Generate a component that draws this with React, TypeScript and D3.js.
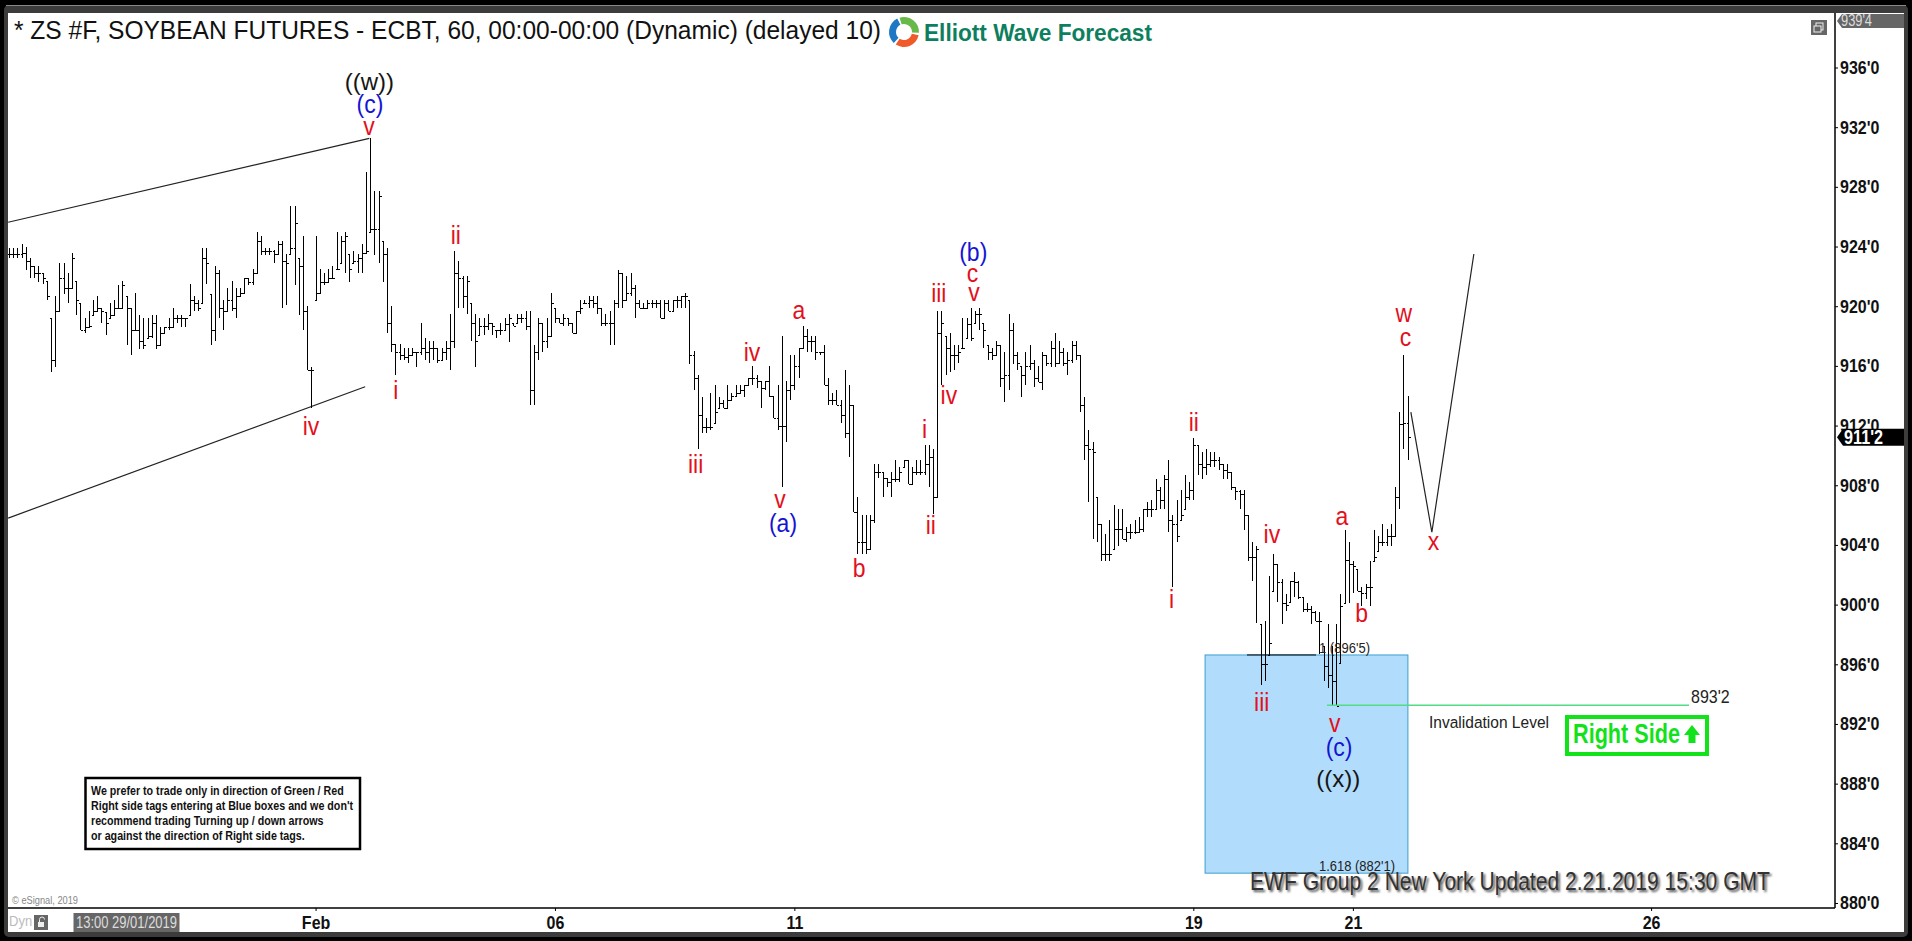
import * as d3 from "d3";
import { useEffect, useRef } from "react";

const highs = [
  923.9,923.9,923.9,924.2,924.0,923.2,922.7,922.7,922.2,921.7,
  919.2,920.7,922.9,922.9,922.2,923.6,921.7,920.2,919.2,919.7,
  920.4,920.7,919.9,919.6,920.2,920.4,921.4,921.7,920.7,919.9,
  920.9,919.4,919.2,919.2,919.4,919.4,918.6,918.6,919.2,919.9,
  919.4,919.4,919.2,921.5,920.7,920.4,923.9,923.9,920.8,922.7,
  922.4,920.4,921.2,921.7,921.2,921.2,
  921.9,921.9,922.5,925.0,924.7,923.9,923.9,923.8,924.4,924.4,
  923.5,926.7,926.7,923.2,924.7,920.0,915.9,924.7,922.5,922.2,
  922.5,922.7,925.0,924.7,925.0,923.5,923.7,923.5,924.2,929.0,
  931.25,927.7,927.7,924.4,923.9,920.0,917.5,917.5,917.2,917.2,
  917.2,916.9,918.9,917.9,917.7,917.7,917.2,917.2,917.7,919.5,
  923.7,923.0,922.0,922.0,920.2,919.5,
  919.2,919.2,919.5,918.9,918.4,918.9,919.2,919.5,918.9,919.5,
  919.5,919.7,919.7,917.4,919.2,918.9,919.2,920.9,919.9,919.2,
  919.5,919.2,918.9,919.7,920.4,920.4,920.7,920.7,920.7,919.9,
  919.5,919.7,920.4,922.4,922.2,922.0,922.2,921.4,920.4,920.2,
  920.4,920.4,920.4,920.4,920.4,920.4,920.4,920.7,920.7,920.9,
  920.4,917.0,915.4,913.9,
  912.5,914.2,914.7,913.9,913.7,914.7,914.2,914.7,914.7,914.7,
  915.2,916.0,915.4,915.0,915.0,916.0,914.0,914.7,918.0,915.0,
  916.7,916.7,917.2,918.7,918.5,918.0,918.0,916.9,917.4,915.2,
  914.2,914.4,913.7,915.7,914.7,913.4,907.2,906.0,906.0,906.0,
  909.4,909.4,908.9,908.5,908.9,909.7,909.2,909.7,909.7,909.2,
  909.7,909.7,910.7,910.7,910.4,919.7,
  919.7,918.0,918.2,917.4,917.4,919.2,919.2,919.9,919.7,919.9,
  918.9,917.4,917.2,917.7,917.4,916.9,919.5,918.9,916.9,916.0,
  916.9,917.4,916.4,916.0,916.9,916.7,917.7,918.2,917.7,917.2,
  916.9,917.7,917.7,916.7,913.9,911.7,910.9,907.2,905.4,904.7,
  905.7,906.7,906.4,906.4,905.2,905.4,905.7,905.9,906.4,906.9,
  907.0,908.4,907.9,908.7,909.7,906.0,
  907.0,907.7,908.7,908.2,911.2,910.7,910.2,910.4,910.2,910.2,
  909.9,909.4,909.4,908.9,907.9,907.7,907.7,906.0,904.2,903.9,
  898.7,898.9,901.9,903.4,902.7,901.7,900.7,901.6,902.2,901.6,
  900.5,900.1,899.9,899.6,899.5,897.2,898.7,897.2,898.7,900.7,
  905.0,904.2,902.9,902.4,901.2,901.4,902.9,905.0,904.6,905.4,
  905.1,905.4,907.9,912.9,916.7,914.0,
];

const lows = [
  923.2,923.2,923.2,923.2,922.4,921.9,921.9,921.6,921.5,920.4,
  915.6,915.9,919.7,920.8,920.2,921.2,919.4,918.4,918.2,918.6,
  919.4,919.7,918.9,918.1,919.2,919.4,919.9,919.9,917.4,916.7,
  918.4,917.1,917.1,917.9,917.9,917.1,917.4,918.2,918.4,918.6,
  918.9,918.6,918.6,919.4,919.7,919.7,920.2,921.5,917.4,917.7,
  919.2,918.4,919.7,919.7,919.2,920.7,
  920.9,921.4,921.4,922.2,923.4,923.4,923.4,922.9,923.4,919.9,
  920.1,923.5,921.4,919.4,918.4,915.7,913.2,920.4,920.9,921.4,
  921.6,921.9,922.5,922.9,922.2,921.6,922.9,922.2,922.2,923.5,
  925.0,923.4,922.9,921.6,918.2,916.9,915.4,916.4,916.4,916.2,
  916.7,915.9,916.7,916.4,916.2,916.4,916.2,916.4,916.4,915.7,
  917.2,919.9,919.9,919.5,917.7,915.9,
  918.1,918.1,918.4,918.1,917.9,918.1,918.4,917.6,918.7,918.9,
  918.9,918.4,913.4,913.4,916.4,916.9,917.2,918.0,918.9,918.9,
  918.7,918.7,918.2,918.2,919.5,920.2,919.9,919.9,919.5,918.7,
  918.7,917.4,917.4,919.9,919.9,920.4,920.7,919.2,919.9,919.9,
  919.9,919.9,919.9,919.2,919.2,919.7,919.7,919.9,919.9,919.9,
  916.1,914.4,910.4,911.5,
  911.5,911.7,912.2,913.2,913.2,913.2,913.7,913.9,914.2,913.9,
  914.7,914.7,914.5,913.2,914.4,913.9,912.5,911.7,907.9,910.9,
  913.7,914.4,915.2,917.2,916.9,916.9,916.4,916.7,914.7,913.4,
  913.4,913.4,912.2,911.2,909.9,906.2,903.4,903.4,903.4,903.7,
  905.5,908.5,907.2,907.9,907.2,908.2,908.2,909.2,908.1,908.1,
  908.7,908.7,908.7,907.9,906.1,907.2,
  914.7,915.4,915.6,915.7,916.2,917.2,917.9,917.7,918.9,918.4,
  917.2,916.4,916.4,916.7,914.6,913.6,914.4,916.1,915.7,913.9,
  914.7,915.7,914.6,914.9,914.4,916.0,915.9,915.9,916.2,916.0,
  915.4,916.2,916.4,912.9,909.7,906.9,904.4,904.2,902.9,902.9,
  902.9,903.7,903.9,904.4,904.2,904.4,904.7,904.9,904.9,905.9,
  905.9,906.4,906.4,906.4,904.9,901.2,
  904.2,905.7,906.4,907.0,907.0,908.7,908.4,908.7,909.2,909.2,
  909.0,908.4,908.4,907.7,907.0,906.4,905.0,902.9,901.6,898.8,
  894.6,894.9,896.6,900.9,900.2,898.7,899.6,900.2,900.5,900.4,
  899.5,899.5,898.7,898.9,896.7,894.9,894.4,893.2,893.2,896.1,
  900.1,900.1,900.8,900.9,899.9,900.4,899.9,902.9,903.6,903.9,
  903.9,903.9,904.6,906.4,910.4,909.7,
];

const closes = [
  923.5,923.5,923.5,923.6,923.0,922.7,922.2,922.2,921.9,920.7,
  916.4,919.7,921.9,921.2,921.2,923.2,920.4,918.4,918.6,918.7,
  919.7,919.9,919.7,918.9,919.4,919.9,919.9,921.4,919.9,918.4,
  918.4,917.7,917.4,918.0,918.9,917.4,918.2,918.6,918.6,919.2,
  919.2,919.2,919.2,920.4,920.2,919.9,923.2,922.9,918.4,922.2,
  919.9,919.7,920.4,919.9,920.7,920.9,
  921.9,921.6,922.2,924.4,923.7,923.7,923.7,923.5,924.2,923.0,
  922.9,923.9,925.6,922.7,919.7,915.7,915.7,920.9,921.6,921.6,
  921.9,921.9,922.5,924.4,924.7,922.5,923.0,923.2,923.6,923.7,
  925.2,925.2,927.4,923.5,918.9,917.5,916.9,916.7,916.6,916.7,
  916.9,916.9,917.2,916.9,917.2,917.2,916.4,916.9,917.2,917.7,
  922.2,921.9,920.7,921.7,918.9,917.7,
  918.7,918.7,918.9,918.7,918.4,918.4,918.8,919.2,918.7,919.2,
  919.2,918.7,914.4,916.9,918.9,917.7,918.0,920.2,919.2,918.9,
  919.2,918.9,918.2,919.7,919.9,920.2,920.4,920.2,919.9,918.9,
  918.9,918.9,920.2,922.2,920.4,920.9,921.2,920.2,919.9,919.9,
  920.2,920.2,920.2,919.2,920.2,919.7,920.4,920.4,920.7,920.7,
  916.7,915.2,912.7,911.9,
  911.9,911.9,912.9,913.5,913.2,913.7,914.0,914.2,914.4,914.7,
  915.2,915.2,915.0,914.5,915.0,914.0,912.5,912.0,912.0,914.4,
  914.7,916.0,917.2,918.0,917.7,917.7,916.9,916.9,914.7,913.7,
  913.7,913.4,912.7,911.5,913.4,906.2,904.2,904.2,903.7,905.7,
  908.9,908.9,908.5,908.2,908.4,908.4,908.9,909.7,908.1,908.9,
  908.9,908.9,909.4,909.9,907.2,918.2,
  918.9,917.2,916.7,916.7,916.9,917.2,918.8,917.9,919.5,919.5,
  918.4,916.9,916.7,917.4,915.2,915.4,918.4,916.7,916.2,915.4,
  916.0,916.2,915.2,914.9,916.7,916.2,917.2,916.2,916.9,916.2,
  916.4,917.4,916.7,913.4,910.7,910.4,910.2,905.4,903.4,903.4,
  903.4,905.1,905.1,904.4,904.9,904.9,904.9,905.1,906.4,906.4,
  906.4,907.7,907.0,908.4,905.7,905.4,
  904.6,906.0,907.2,907.7,910.7,909.4,909.2,909.4,909.7,909.7,
  909.4,909.0,908.9,907.9,907.6,907.4,906.0,903.2,903.2,903.7,
  896.0,896.0,897.4,902.7,901.5,900.1,900.0,901.6,901.5,900.5,
  899.7,899.7,899.5,898.9,898.9,895.9,895.3,894.9,893.2,899.9,
  903.0,902.7,902.6,900.9,900.8,901.2,901.2,903.2,904.2,904.2,
  904.6,904.6,907.2,912.1,912.2,911.25,
];

const priceTicks = [880, 884, 888, 892, 896, 900, 904, 908, 912, 916, 920, 924, 928, 932, 936];
const dateTickBars = [73, 130, 187, 282, 320, 391];
const dateTickLabels = ["Feb", "06", "11", "19", "21", "26"];

// wave counts: text, bar number, price
const redLabels: [string, number, number][] = [
  ["v", 85.7, 931.9], ["iv", 71.9, 911.8], ["i", 92.1, 914.2], ["ii", 106.4, 924.6],
  ["iii", 163.5, 909.25], ["iv", 176.9, 916.8], ["a", 188.1, 919.6], ["v", 183.6, 906.9],
  ["b", 202.4, 902.3], ["i", 218, 911.6], ["ii", 219.5, 905.2], ["iv", 223.8, 913.9],
  ["iii", 221.4, 920.7], ["v", 229.8, 920.8], ["c", 229.4, 922.1], ["ii", 282.1, 912.1],
  ["i", 276.8, 900.2], ["iv", 300.7, 904.6], ["iii", 298.3, 893.3], ["a", 317.4, 905.8],
  ["b", 322.1, 899.3], ["v", 315.7, 891.9], ["x", 339.2, 904.1], ["w", 332.1, 919.4],
  ["c", 332.5, 917.8],
];
const blueLabels: [string, number, number][] = [
  ["(c)", 85.95, 933.5], ["(a)", 184.3, 905.4], ["(b)", 229.6, 923.6], ["(c)", 316.7, 890.4],
];
const blackLabels: [string, number, number][] = [
  ["((w))", 85.8, 935.05], ["((x))", 316.5, 888.3],
];

const upperChannel = [[-0.2, 925.63], [85.8, 931.25]];
const lowerChannel = [[-0.2, 905.8], [84.8, 914.6]];
const projection = [[333.8, 912.9], [338.8, 904.85], [348.8, 923.5]];
const noteLines = [
  "We prefer to trade only in direction of Green / Red",
  "Right side tags entering at Blue boxes and we don't",
  "recommend trading Turning up / down arrows",
  "or against the direction of Right side tags.",
];

const boxTop = 896.625;
const boxBottom = 882;
const invalidation = 893.25;
const lastPrice = 911.25;

export default function App() {
  const svgRef = useRef<SVGSVGElement>(null);

  useEffect(() => {
    const w = 1912;
    const h = 941;
    const svg = d3.select(svgRef.current);
    svg.selectAll("*").remove();
    svg.attr("width", w).attr("height", h);

    const x = d3.scaleLinear().domain([0, 333]).range([9, 1407.5]);
    const y = d3.scaleLinear().domain([880, 936]).range([903, 67.5]);
    const sans = "'Liberation Sans', Arial, sans-serif";

    // esignal text is hinted tall and narrow, so most text gets a vertical stretch
    const text = (s: string, px: number, py: number, size: number, fill: string, opts: any = {}) => {
      const t = svg
        .append("text")
        .attr("transform", `translate(${px},${py}) scale(1,${opts.stretch ?? 1.15})`)
        .attr("font-family", sans)
        .attr("font-size", size)
        .attr("fill", fill)
        .attr("font-weight", opts.weight ?? "normal")
        .attr("text-anchor", opts.anchor ?? "start")
        .text(s);
      if (opts.length) t.attr("textLength", opts.length).attr("lengthAdjust", "spacingAndGlyphs");
      return t;
    };

    // window frame
    svg.append("rect").attr("width", w).attr("height", h).attr("fill", "#000");
    svg.append("rect").attr("x", 4).attr("y", 5).attr("width", 1904).attr("height", 932).attr("rx", 5).attr("fill", "#3c3c3c");
    svg.append("rect").attr("x", 8).attr("y", 13).attr("width", 1896).attr("height", 919).attr("fill", "#fff");
    svg.append("line").attr("x1", 6).attr("x2", 1906).attr("y1", 5.5).attr("y2", 5.5).attr("stroke", "#888");

    // blue box
    svg
      .append("rect")
      .attr("x", x(284.8))
      .attr("y", y(boxTop))
      .attr("width", x(333.1) - x(284.8))
      .attr("height", y(boxBottom) - y(boxTop))
      .attr("fill", "#b2dcfb")
      .attr("stroke", "#3b9fcf");
    svg.append("line").attr("x1", 1247).attr("x2", 1316).attr("y1", y(boxTop)).attr("y2", y(boxTop)).attr("stroke", "#000");
    svg.append("line").attr("x1", 1272).attr("x2", 1309).attr("y1", y(boxBottom)).attr("y2", y(boxBottom)).attr("stroke", "#000");

    // channel and projection
    const line = d3.line<number[]>().x((d) => x(d[0])).y((d) => y(d[1]));
    [upperChannel, lowerChannel, projection].forEach((pts) => {
      svg.append("path").attr("d", line(pts)).attr("fill", "none").attr("stroke", "#222").attr("stroke-width", 1.2);
    });

    // price bars
    svg
      .append("g")
      .attr("fill", "none")
      .attr("stroke", "#000")
      .attr("stroke-width", 1)
      .attr("shape-rendering", "crispEdges")
      .selectAll("path")
      .data(highs)
      .enter()
      .append("path")
      .attr("d", (hi, i) => {
        const px = Math.round(x(i)) + 0.5;
        const open = Math.max(lows[i], Math.min(hi, i ? closes[i - 1] : closes[i]));
        const oy = Math.round(y(open)) + 0.5;
        const cy = Math.round(y(closes[i])) + 0.5;
        return `M${px},${y(hi)}V${y(lows[i])}M${px - 2},${oy}H${px}M${px},${cy}H${px + 2}`;
      });

    // invalidation level
    svg
      .append("line")
      .attr("x1", 1327)
      .attr("x2", 1689)
      .attr("y1", y(invalidation))
      .attr("y2", y(invalidation))
      .attr("stroke", "#52dc84")
      .attr("stroke-width", 1.5);
    text("893'2", 1691, 702.5, 16, "#222");
    text("Invalidation Level", 1429, 727.5, 15, "#222", { length: 120 });
    text("1 (896'5)", 1319, 652.5, 13, "#222", { length: 51 });
    text("1.618 (882'1)", 1319, 870.5, 13, "#222", { length: 76 });

    // right side tag
    svg
      .append("rect")
      .attr("x", 1567)
      .attr("y", 717)
      .attr("width", 140)
      .attr("height", 37)
      .attr("fill", "#fff")
      .attr("stroke", "#12e21a")
      .attr("stroke-width", 4);
    text("Right Side", 1573, 743, 24, "#12e21a", { weight: "bold", length: 107 });
    svg.append("path").attr("d", "M1692,725l8,10h-4.5v8h-7v-8h-4.5z").attr("fill", "#12e21a");

    // wave labels
    const waves = (list: [string, number, number][], size: number, fill: string, lift: number, stretch: number) => {
      list.forEach(([s, b, p]) => {
        text(s, x(b), y(p) + size * lift * stretch, size, fill, { anchor: "middle", stretch });
      });
    };
    waves(redLabels, 23, "#e2101c", 0.26, 1.12);
    waves(blueLabels, 23, "#1414d2", 0.33, 1.1);
    waves(blackLabels, 24, "#151515", 0.33, 1);

    // axes
    svg.append("line").attr("x1", 1835).attr("x2", 1835).attr("y1", 13).attr("y2", 908).attr("stroke", "#000").attr("stroke-width", 1.5);
    svg.append("line").attr("x1", 8).attr("x2", 1835).attr("y1", 908).attr("y2", 908).attr("stroke", "#000").attr("stroke-width", 1.5);
    const yAxis = d3.axisRight(y).tickValues(priceTicks).tickFormat((d) => `${d}'0`).tickSize(3).tickPadding(2);
    const yG = svg.append("g").attr("transform", "translate(1835,0)").call(yAxis as any);
    yG.select(".domain").remove();
    yG.selectAll("text")
      .attr("font-family", sans)
      .attr("font-size", 16)
      .attr("font-weight", "bold")
      .attr("fill", "#111")
      .attr("transform", "scale(1,1.15)");
    const xAxis = d3
      .axisBottom(x)
      .tickValues(dateTickBars)
      .tickFormat((_, i) => dateTickLabels[i])
      .tickSize(3)
      .tickPadding(3.5);
    const xG = svg.append("g").attr("transform", "translate(0,908)").call(xAxis as any);
    xG.select(".domain").remove();
    xG.selectAll("text")
      .attr("font-family", sans)
      .attr("font-size", 16)
      .attr("font-weight", "bold")
      .attr("fill", "#111")
      .attr("transform", "scale(1,1.15)");

    // price flags
    svg.append("path").attr("d", "M1837,21l5,-7h62v14h-62z").attr("fill", "#666");
    text("939'4", 1841, 26, 14, "#ddd", { length: 31 });
    svg.append("path").attr("d", `M1837,${y(lastPrice) + 0.5}l6,-8.5h61v17h-61z`).attr("fill", "#000");
    text("911'2", 1844, y(lastPrice) + 7.5, 18, "#fff", { weight: "bold", length: 39 });

    // window icon
    svg.append("rect").attr("x", 1811).attr("y", 20).attr("width", 16).attr("height", 15).attr("fill", "#666");
    svg.append("rect").attr("x", 1816).attr("y", 23).attr("width", 7).attr("height", 7).attr("fill", "none").attr("stroke", "#eee");
    svg.append("rect").attr("x", 1814).attr("y", 26).attr("width", 7).attr("height", 6).attr("fill", "#666").attr("stroke", "#eee");

    // header
    text("* ZS #F, SOYBEAN FUTURES - ECBT, 60, 00:00-00:00 (Dynamic) (delayed 10)", 14, 38.5, 22, "#111", { length: 867 });
    const arc = d3.arc<any>().innerRadius(8).outerRadius(15);
    const logoColours = ["#69b84a", "#f0592a", "#1f78c4"];
    logoColours.forEach((c, i) => {
      svg
        .append("path")
        .attr("transform", "translate(904,32)")
        .attr("d", arc({ startAngle: -0.3 + (i * 2 * Math.PI) / 3, endAngle: -0.3 + ((i + 0.92) * 2 * Math.PI) / 3 }))
        .attr("fill", c);
    });
    text("Elliott Wave Forecast", 924, 41, 22, "#0e7f5e", { weight: "bold", length: 228, stretch: 1.1 });

    // note box
    svg.append("rect").attr("x", 85.5).attr("y", 778).attr("width", 274.5).attr("height", 71).attr("fill", "#fff").attr("stroke", "#000").attr("stroke-width", 2.5);
    noteLines.forEach((s, i) => {
      text(s, 91, 794.5 + i * 15.2, 10.7, "#111", { weight: "bold" });
    });

    // footer stamp
    const defs = svg.append("defs");
    defs.append("filter").attr("id", "soft").append("feGaussianBlur").attr("stdDeviation", 1);
    const stamp = "EWF Group 2 New York Updated 2.21.2019 15:30 GMT";
    text(stamp, 1252, 891.5, 22, "#555", { length: 520 }).attr("filter", "url(#soft)");
    text(stamp, 1250, 889.5, 22, "#333", { length: 520 });

    // bottom strip
    text("© eSignal, 2019", 12, 904, 10, "#888", { length: 66 });
    text("Dyn", 9, 926, 13, "#bbb");
    svg.append("rect").attr("x", 34).attr("y", 915).attr("width", 14).attr("height", 15).attr("fill", "#666");
    svg.append("rect").attr("x", 38).attr("y", 922).attr("width", 6).attr("height", 5).attr("fill", "#eee");
    svg.append("path").attr("d", "M39.5,922v-2.5a2.5,2.5 0 0 1 5,0").attr("fill", "none").attr("stroke", "#eee");
    svg.append("rect").attr("x", 73.5).attr("y", 913).attr("width", 106).attr("height", 19).attr("fill", "#666");
    text("13:00 29/01/2019", 76, 928, 14, "#ddd", { length: 101 });
  }, []);

  return <svg ref={svgRef} style={{ position: "fixed", top: 0, left: 0, display: "block" }}></svg>;
}
